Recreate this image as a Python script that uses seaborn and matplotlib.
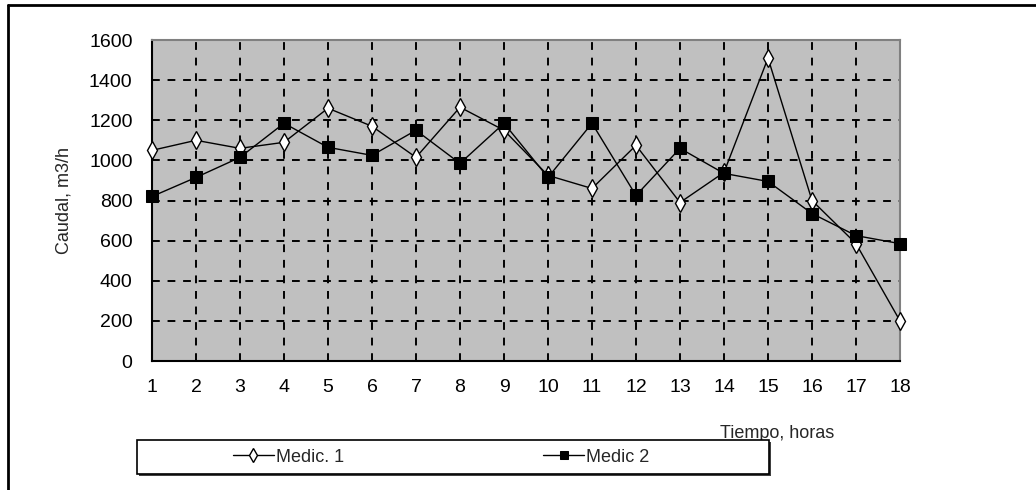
import numpy as np
import pandas as pd
import matplotlib
matplotlib.use('Agg')
import matplotlib.pyplot as plt
from matplotlib.patches import Rectangle
from matplotlib.lines import Line2D
import seaborn as sns

# --- DATA ---
horas = list(range(1, 19))
medic_1 = [1050, 1100, 1060, 1090, 1260, 1170, 1015, 1265, 1150,
           925, 860, 1075, 790, 940, 1510, 800, 585, 200]
medic_2 = [820, 915, 1015, 1185, 1065, 1025, 1150, 985, 1185,
           915, 1185, 825, 1060, 935, 895, 735, 625, 585]
y_ticks = [0, 200, 400, 600, 800, 1000, 1200, 1400, 1600]

df = pd.DataFrame({'Tiempo': horas, 'Medic. 1': medic_1, 'Medic 2': medic_2})

sns.set_style('white')
plt.rcParams['font.family'] = ['Liberation Sans', 'DejaVu Sans']

W, H = 1036, 490
fig = plt.figure(figsize=(W / 100, H / 100), dpi=100)
ax = fig.add_axes([152 / W, 1 - 361 / H, (900 - 152) / W, (361 - 40) / H])
ax.set_facecolor('#c0c0c0')

# 1. Lines
sns.lineplot(data=df, x='Tiempo', y='Medic. 1', ax=ax, color='black', linewidth=1.0,
             marker='d', markersize=9, markerfacecolor='white', markeredgecolor='black',
             markeredgewidth=1.0, label='Medic. 1', legend=False, clip_on=False, zorder=5)
sns.lineplot(data=df, x='Tiempo', y='Medic 2', ax=ax, color='black', linewidth=1.0,
             marker='s', markersize=8, markerfacecolor='black', markeredgecolor='black',
             label='Medic 2', legend=False, clip_on=False, zorder=6)
if ax.get_legend() is not None:
    ax.get_legend().remove()

# 2. Axes styling
ax.set_xlim(1, 18)
ax.set_ylim(0, 1600)
ax.set_xticks(horas)
ax.set_yticks(y_ticks)
ax.tick_params(axis='both', labelsize=14, colors='black', length=5, width=1.2, direction='out')
ax.tick_params(axis='y', pad=9)
ax.tick_params(axis='x', pad=8)
ax.grid(True, color='black', linestyle=(0, (4, 4)), linewidth=1.4)
ax.set_axisbelow(True)
for s in ['left', 'bottom']:
    ax.spines[s].set_color('black')
    ax.spines[s].set_linewidth(1.5)
for s in ['top', 'right']:
    ax.spines[s].set_color('#808080')
    ax.spines[s].set_linewidth(1.5)

ax.set_ylabel('Caudal, m3/h', fontsize=13, labelpad=12)
ax.set_xlabel('Tiempo, horas', fontsize=13)
ax.xaxis.set_label_coords((777 - 152) / 748, (361 - 433) / 321)
ax.xaxis.label.set_va('center')

# 3. Legend box
fig.patches.append(Rectangle((139 / W, 1 - 476 / H), 632 / W, 34 / H, transform=fig.transFigure,
                             facecolor='#404040', edgecolor='none', zorder=1))
fig.patches.append(Rectangle((137 / W, 1 - 474 / H), 632 / W, 34 / H, transform=fig.transFigure,
                             facecolor='white', edgecolor='black', linewidth=1.2, zorder=2))
handles, labels = ax.get_legend_handles_labels()
leg = fig.legend(handles, labels, loc='center', bbox_to_anchor=(441 / W, 1 - 457 / H),
                 ncol=2, frameon=False, fontsize=13, handlelength=2.3, handletextpad=0.1,
                 columnspacing=11.0, markerscale=0.8)
leg.set_zorder(3)

# 4. Outer frame (top and left only, picture is cropped)
fig.add_artist(Line2D([8 / W, 1], [1 - 5 / H, 1 - 5 / H], transform=fig.transFigure,
                      color='black', linewidth=2))
fig.add_artist(Line2D([8 / W, 8 / W], [0, 1 - 5 / H], transform=fig.transFigure,
                      color='black', linewidth=2))

fig.savefig('out.png', dpi=100)
